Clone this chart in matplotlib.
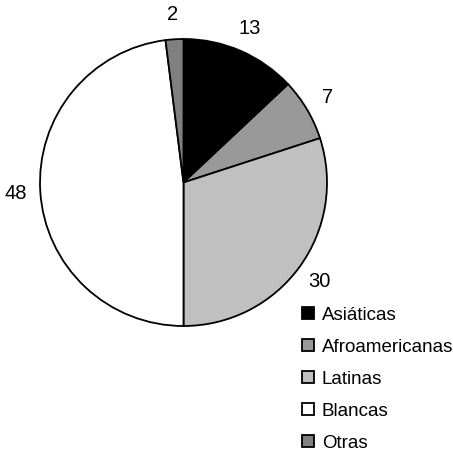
import matplotlib
matplotlib.use("Agg")
import matplotlib.pyplot as plt
from matplotlib.patches import Patch

# Data
groups = ["Asiáticas", "Afroamericanas", "Latinas", "Blancas", "Otras"]
values = [13, 7, 30, 48, 2]
colors = ["#000000", "#999999", "#c0c0c0", "#ffffff", "#808080"]

plt.rcParams["font.family"] = ["Liberation Sans", "DejaVu Sans"]

fig = plt.figure(figsize=(4.53, 4.54), dpi=100)
ax = fig.add_axes([40 / 453, 128 / 454, 287 / 453, 287 / 454])

wedges, texts = ax.pie(values, labels=[str(v) for v in values], colors=colors,
                       startangle=90, counterclock=False, labeldistance=1.17,
                       wedgeprops=dict(edgecolor="black", linewidth=1.3),
                       textprops=dict(fontsize=14.5))
for t in texts:
    t.set_ha("center")
    t.set_va("center")
ax.set_xlim(-1, 1)
ax.set_ylim(-1, 1)
ax.set_aspect("equal")
for w in wedges:
    w.set_clip_on(False)

# Legend
handles = [Patch(facecolor=c, edgecolor="black", linewidth=1.3) for c in colors]
fig.legend(handles, groups, loc="upper left", bbox_to_anchor=(302 / 453, 1 - 306.5 / 454),
           frameon=False, fontsize=13.5, handlelength=0.64, handleheight=0.64,
           handletextpad=0.42, labelspacing=0.8, borderpad=0, borderaxespad=0)

fig.savefig("out.png", dpi=100)
